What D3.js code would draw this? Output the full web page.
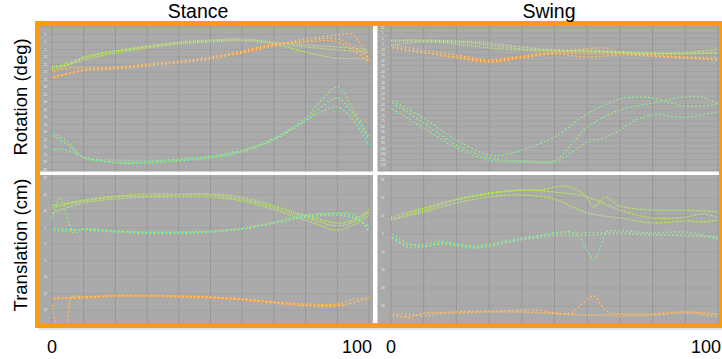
<!DOCTYPE html>
<html>
<head>
<meta charset="utf-8">
<script src="https://cdn.jsdelivr.net/npm/d3@7"></script>
<style>
body { margin: 0; background: #fff; }
text { font-family: "Liberation Sans", Arial, sans-serif; }
</style>
</head>
<body>
<div class="module"></div>
<script>
// percent of stance / swing phase on x, [x, value] pairs per curve
const xTicks = [0, 10, 20, 30, 40, 50, 60, 70, 80, 90, 100];
const colTitles = ["Stance", "Swing"];
const rowTitles = ["Rotation (deg)", "Translation (cm)"];

// Stance - rotation
const stanceRotGreen = [
	[[0,-17.3],[10,-10.7],[20,-6],[30,-2.7],[40,0],[50,1.3],[60,2],[70,0],[80,-2],[90,-3.3],[100,-5.3]],
	[[0,-18.7],[10,-12],[20,-7.3],[30,-4],[40,-1.3],[50,0],[60,0.7],[70,-0.7],[80,-3.3],[90,-5.3],[100,-6.7]],
	[[0,-16],[5,-15.3],[10,-10],[20,-6],[30,-3.3],[40,-0.7],[50,0.7],[60,1.3],[70,-1.3],[80,-6.7],[90,-10.7],[100,-10.7]]
];
const stanceRotOrange = [
	[[0,-23.3],[10,-18.7],[20,-17.3],[30,-15.3],[40,-13.3],[50,-10.7],[60,-6.7],[70,-2],[80,2],[90,4.7],[95,4.7],[100,-12]],
	[[0,-24],[10,-19.3],[20,-18],[30,-16],[40,-14],[50,-11.3],[60,-7.3],[70,-2.7],[80,0.7],[90,2],[100,-10.7]],
	[[0,-20],[5,-17.3],[10,-17.3],[20,-16.7],[30,-14.7],[40,-12.7],[50,-10],[60,-6],[70,-1.3],[80,0],[90,0],[100,-13.3]]
];
const stanceRotCyan = [
	[[0,-60],[5,-66.7],[10,-76.7],[20,-78.7],[30,-79.3],[40,-78],[50,-76],[60,-72],[70,-64],[80,-50.7],[85,-38.7],[90,-30],[95,-45],[100,-63.3]],
	[[0,-62],[5,-68.7],[10,-77.3],[20,-80],[30,-80],[40,-78.7],[50,-76.7],[60,-72.7],[70,-64.7],[80,-52],[85,-43.3],[90,-37.3],[95,-48],[100,-65.3]],
	[[0,-72],[3,-71.3],[10,-76.7],[20,-80.7],[30,-80.7],[40,-79.3],[50,-77.3],[60,-73.3],[70,-65.3],[80,-52.7],[85,-46.7],[90,-43.3],[95,-52],[100,-68.7]]
];

// Swing - rotation
const swingRotGreen = [
	[[0,-1.4],[10,-1.4],[20,-2.3],[30,-4.1],[40,-7.7],[50,-10.5],[60,-11.4],[70,-12.3],[80,-13.2],[90,-13.2],[100,-9.5]],
	[[0,-2.3],[10,-2.3],[20,-3.2],[30,-5.9],[40,-9.5],[50,-10.5],[60,-10.5],[70,-12.3],[80,-13.2],[90,-13.2],[100,-13.2]],
	[[0,-5.9],[10,-3.2],[20,-5],[30,-8.6],[40,-10.5],[50,-11.4],[60,-12.3],[70,-13.2],[80,-14.1],[90,-14.1],[100,-13.2]]
];
const swingRotOrange = [
	[[0,-5.9],[10,-10.5],[20,-15],[30,-19.5],[40,-15.9],[50,-12.3],[60,-9.5],[65,-8.6],[70,-12.3],[80,-15],[90,-16.8],[100,-17.7]],
	[[0,-7.7],[10,-12.3],[20,-16.8],[30,-20.5],[40,-16.8],[50,-13.2],[60,-14.1],[70,-14.1],[80,-15.9],[90,-17.7],[100,-19.5]],
	[[0,-8.6],[10,-13.2],[20,-17.7],[30,-21.4],[40,-17.7],[50,-14.1],[60,-16.8],[70,-15],[80,-15.9],[90,-17.7],[100,-19.5]]
];
const swingRotCyan = [
	[[0,-55.9],[10,-72.3],[20,-92.3],[30,-105.9],[35,-105.5],[40,-101.4],[50,-89.5],[60,-68.6],[70,-55],[75,-53.2],[80,-54.1],[90,-61.4],[100,-59.5]],
	[[0,-57.7],[10,-76.8],[20,-96.8],[30,-108.6],[40,-111],[50,-111],[55,-97],[60,-80.5],[70,-65],[80,-58.6],[90,-53.2],[95,-53.2],[100,-59.5]],
	[[0,-63.2],[10,-81.4],[20,-99.5],[30,-110.5],[40,-112.3],[50,-112.3],[55,-104.1],[60,-94.1],[65,-90.5],[70,-83.2],[75,-74.1],[80,-69.5],[90,-71.4],[100,-66.8]]
];

// Stance - translation
const stanceTransGreen = [
	[[0,11.9],[5,12.5],[10,13.4],[20,14.6],[30,15.2],[40,15.2],[50,15.2],[60,14.3],[70,11.6],[80,8.8],[90,6.4],[95,7.3],[100,10.4]],
	[[0,11],[10,13.1],[20,14.3],[30,14.6],[40,14.9],[50,14.9],[60,13.7],[70,11],[80,8.2],[90,5.5],[95,6.7],[100,9.8]],
	[[0,9.5],[10,12.5],[20,13.7],[30,14.3],[40,14.3],[50,14.3],[60,13.1],[70,10.4],[80,7.3],[90,4.3],[95,5.8],[100,8.8]]
];
const stanceTransCyan = [
	[[0,7.3],[1.5,12.5],[2.5,14.3],[3.5,12.5],[5.5,6],[7,3.4],[10,4.6],[20,4],[30,3.7],[40,3.7],[50,4],[60,4.9],[70,6.7],[80,8.8],[90,9.5],[95,9.2],[100,3.7]],
	[[0,4.9],[10,4.3],[20,3.7],[30,3.4],[40,3.4],[50,3.7],[60,4.6],[70,6.4],[80,8.5],[90,9.2],[95,8.5],[100,4.9]],
	[[0,4.3],[5,4],[10,4.6],[20,4],[30,3.4],[40,3.4],[50,3.7],[60,4.6],[70,6.4],[80,8.2],[90,8.8],[95,7.9],[100,5.5]]
];
const stanceTransOrange = [
	[[0,-17.8],[1.9,-25.5],[4.1,-25.5],[6.3,-16],[10,-16],[20,-15.4],[30,-15.4],[40,-15.7],[50,-16],[60,-16.6],[70,-17.5],[80,-18.4],[90,-18.4],[95,-17.8],[100,-16.3]],
	[[0,-16.3],[10,-16.3],[20,-15.7],[30,-15.7],[40,-16],[50,-16.3],[60,-16.9],[70,-17.8],[80,-18.7],[90,-18.7],[95,-17.5],[100,-16]],
	[[0,-16.6],[10,-16],[20,-15.7],[30,-15.7],[40,-15.7],[50,-16],[60,-16.6],[70,-17.5],[80,-18.1],[90,-18.1],[95,-16.6],[100,-16.6]]
];

// Swing - translation
const swingTransGreen = [
	[[0,9.4],[10,14.4],[20,19.4],[30,22.8],[40,24.4],[45,24.4],[50,26.1],[53,26.7],[57,24.4],[60,20],[62,15],[65.5,20.5],[70,15.6],[80,13.3],[90,13.3],[100,12.2]],
	[[0,8.3],[10,13.3],[20,18.9],[30,22.2],[40,24.4],[50,23.3],[60,20.6],[70,13.3],[80,8.9],[90,9.4],[95,11.1],[100,9.4]],
	[[0,7.8],[10,12.2],[20,17.2],[30,20.6],[40,21.7],[50,19.4],[60,11.7],[70,8.9],[80,6.1],[90,7.2],[95,6.7],[100,7.8]]
];
const swingTransCyan = [
	[[0,0.6],[5,-5],[10,-6.7],[15,-5],[20,-5.6],[25,-7.2],[30,-6.7],[35,-4.4],[40,-2.8],[45,-1.1],[50,0.6],[55,1.1],[58,-2.2],[60,-8.9],[62,-14.4],[64,-7.8],[66,1.1],[70,1.7],[80,0.6],[90,1.1],[100,-2.2]],
	[[0,-1.1],[5,-6.1],[10,-5.6],[15,-3.9],[20,-5.6],[25,-6.7],[30,-5.6],[40,-2.2],[50,0],[60,0.6],[70,0.6],[80,0],[90,-1.1],[100,-1.1]],
	[[0,-1.7],[5,-7.2],[10,-7.2],[15,-5.6],[20,-6.7],[25,-7.8],[30,-6.7],[40,-3.3],[50,-1.1],[60,-0.6],[70,0],[80,-0.6],[90,0],[100,-2.8]]
];
const swingTransOrange = [
	[[0,-44.4],[5,-44.4],[10,-45.6],[20,-43.3],[30,-42.8],[40,-42.2],[45,-42.2],[50,-43.9],[55,-43.9],[58,-39.4],[62,-34.4],[65,-41.1],[68,-44.4],[70,-44.4],[80,-44.4],[90,-43.3],[100,-45]],
	[[0,-45.6],[5,-45.6],[10,-44.4],[20,-43.3],[30,-43.3],[40,-43.3],[50,-43.9],[60,-45],[70,-44.4],[80,-45],[90,-43.3],[95,-43.9],[100,-44.4]],
	[[0,-43.9],[5,-46.7],[10,-43.9],[20,-43.9],[30,-43.3],[40,-43.3],[50,-44.4],[60,-45],[70,-45.6],[80,-45],[90,-43.9],[100,-46.1]]
];

const palette = {
	green: ['#d8e64e', '#98de82'],
	cyan: ['#55d2d8', '#d6e25c'],
	orange: ['#f4985a', '#f6d06c']
};

drawChart(d3.select('.module').node());

function drawChart(rootDOM){

	const W = 722;
	const H = 359;

	const svg = d3.select(rootDOM)
		.append('svg')
		.attr('width', W)
		.attr('height', H);

	// columns: panel box + where 0..100 lands
	const cols = [
		{ x0: 40, x1: 373, r: [52, 369] },
		{ x0: 377.5, x1: 719, r: [391, 718] }
	];
	// rows: panel box, y scale per column
	const rows = [
		{ y0: 26, y1: 171.5 },
		{ y0: 175, y1: 323 }
	];

	const panels = [
		{ c: 0, r: 0, dom: [-86, 10], rng: [171, 27], ticks: d3.range(-85, 11, 5),
			groups: [[stanceRotGreen, 'green'], [stanceRotOrange, 'orange'], [stanceRotCyan, 'cyan']] },
		{ c: 1, r: 0, dom: [-120, 10], rng: [170.5, 27.5], ticks: d3.range(-120, 11, 5),
			groups: [[swingRotOrange, 'orange'], [swingRotGreen, 'green'], [swingRotCyan, 'cyan']] },
		{ c: 0, r: 1, dom: [-20, 20], rng: [310.2, 178.2], ticks: d3.range(-20, 21, 5),
			groups: [[stanceTransGreen, 'green'], [stanceTransCyan, 'cyan'], [stanceTransOrange, 'orange']] },
		{ c: 1, r: 1, dom: [-40, 30], rng: [306, 180], ticks: d3.range(-40, 31, 10),
			groups: [[swingTransGreen, 'green'], [swingTransCyan, 'cyan'], [swingTransOrange, 'orange']] }
	];

	// faint shadow under the frame
	svg.append('rect')
		.attr('x', 39).attr('y', 25)
		.attr('width', 686).attr('height', 305)
		.attr('fill', '#e4e4e4');

	svg.append('rect')
		.attr('x', 37.5).attr('y', 23.5)
		.attr('width', 684).attr('height', 302)
		.attr('fill', '#fff');

	panels.forEach((p, i) => {
		const col = cols[p.c];
		const row = rows[p.r];
		const x = d3.scaleLinear().domain([0, 100]).range(col.r);
		const y = d3.scaleLinear().domain(p.dom).range(p.rng);

		const g = svg.append('g').attr('class', 'panel');

		g.append('clipPath').attr('id', 'clip' + i)
			.append('rect')
			.attr('x', col.x0).attr('y', row.y0)
			.attr('width', col.x1 - col.x0).attr('height', row.y1 - row.y0);

		g.append('rect')
			.attr('x', col.x0).attr('y', row.y0)
			.attr('width', col.x1 - col.x0).attr('height', row.y1 - row.y0)
			.attr('fill', '#aaaaaa');

		// horizontal grid
		g.selectAll('.hgrid')
			.data(p.ticks.filter(t => y(t) > row.y0 && y(t) < row.y1))
			.enter().append('line')
			.attr('class', 'hgrid')
			.attr('x1', col.x0).attr('x2', col.x1)
			.attr('y1', d => y(d)).attr('y2', d => y(d))
			.style('stroke', '#9e9e9e')
			.style('stroke-width', '0.8px');

		// vertical grid
		g.selectAll('.vgrid')
			.data(xTicks)
			.enter().append('line')
			.attr('class', 'vgrid')
			.attr('x1', d => x(d)).attr('x2', d => x(d))
			.attr('y1', row.y0).attr('y2', row.y1)
			.style('stroke', '#979797')
			.style('stroke-width', '1px');

		// tiny tick labels
		g.selectAll('.tlab')
			.data(p.ticks.filter(t => y(t) > row.y0 + 1 && y(t) < row.y1 - 1))
			.enter().append('text')
			.attr('class', 'tlab')
			.attr('x', col.x0 + 5)
			.attr('y', d => y(d) + 1)
			.attr('text-anchor', 'middle')
			.style('font-size', '3px')
			.style('fill', '#f4f4f4')
			.text(d => d);

		const line = d3.line()
			.x(d => x(d[0]))
			.y(d => y(d[1]))
			.curve(d3.curveCatmullRom.alpha(0.5));

		const lines = g.append('g').attr('clip-path', 'url(#clip' + i + ')');

		p.groups.forEach(([series, key]) => {
			const cc = palette[key];
			series.forEach(s => {
				lines.append('path')
					.attr('d', line(s))
					.style('fill', 'none')
					.style('stroke', cc[0])
					.style('stroke-width', '1.2px')
					.style('stroke-dasharray', '1.3 2.7');
				lines.append('path')
					.attr('d', line(s))
					.style('fill', 'none')
					.style('stroke', cc[1])
					.style('stroke-width', '1.2px')
					.style('stroke-dasharray', '1.3 2.7')
					.style('stroke-dashoffset', -2);
			});
		});

		// x labels below bottom row
		if (p.r === 1) {
			svg.append('text')
				.attr('x', x(0)).attr('y', 353)
				.attr('text-anchor', 'middle')
				.style('font-size', '18px')
				.text(xTicks[0]);
			svg.append('text')
				.attr('x', x(100) + 3).attr('y', 353)
				.attr('text-anchor', 'end')
				.style('font-size', '18px')
				.text(xTicks[xTicks.length - 1]);
		}
	});

	// orange frame
	svg.append('rect')
		.attr('x', 37.5).attr('y', 23.5)
		.attr('width', 684).attr('height', 302)
		.attr('fill', 'none')
		.style('stroke', '#f99d0f')
		.style('stroke-width', '5px');

	// column titles
	svg.selectAll('.ctitle')
		.data(colTitles)
		.enter().append('text')
		.attr('class', 'ctitle')
		.attr('x', (d, i) => i === 0 ? 198 : 549)
		.attr('y', 18)
		.attr('text-anchor', 'middle')
		.style('font-size', '19.5px')
		.text(d => d);

	// row titles
	svg.selectAll('.rtitle')
		.data(rowTitles)
		.enter().append('text')
		.attr('class', 'rtitle')
		.attr('transform', (d, i) => `translate(27, ${i === 0 ? 97 : 245}) rotate(-90)`)
		.attr('text-anchor', 'middle')
		.style('font-size', '18.5px')
		.text(d => d);
}
</script>
</body>
</html>
